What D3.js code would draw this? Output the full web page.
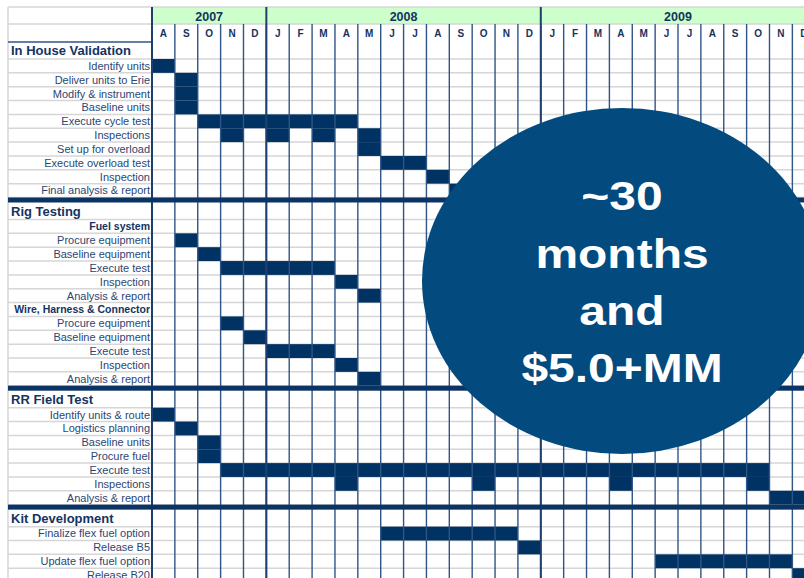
<!DOCTYPE html>
<html><head><meta charset="utf-8">
<script src="https://cdn.jsdelivr.net/npm/d3@7"></script>
<style>html,body{margin:0;padding:0;background:#fff;}svg{display:block;}</style>
</head><body>
<svg id="chart" width="804" height="578"></svg>
<script>
// ---- data ----
const months = ["A","S","O","N","D","J","F","M","A","M","J","J","A","S","O","N","D","J","F","M","A","M","J","J","A","S","O","N","D"];
const years = ["2007","2008","2009"];
const yearSpans = [[0,4],[5,16],[17,28]];
const sections = ["In House Validation","Rig Testing","RR Field Test","Kit Development"];
const subheads = ["Fuel system","Wire, Harness & Connector"];
const sectionTasks = [
  ["Identify units","Deliver units to Erie","Modify & instrument","Baseline units","Execute cycle test","Inspections","Set up for overload","Execute overload test","Inspection","Final analysis & report"],
  ["Fuel system","Procure equipment","Baseline equipment","Execute test","Inspection","Analysis & report","Wire, Harness & Connector","Procure equipment","Baseline equipment","Execute test","Inspection","Analysis & report"],
  ["Identify units & route","Logistics planning","Baseline units","Procure  fuel","Execute test","Inspections","Analysis & report"],
  ["Finalize flex fuel option","Release B5","Update flex fuel option","Release B20"]
];
// month-index spans [start,end] for each task
const sectionSpans = [
  [[[0,0]],[[1,1]],[[1,1]],[[1,1]],[[2,8]],[[3,3],[5,5],[7,7],[9,9]],[[9,9]],[[10,11]],[[12,12]],[[13,13]]],
  [[],[[1,1]],[[2,2]],[[3,7]],[[8,8]],[[9,9]],[],[[3,3]],[[4,4]],[[5,7]],[[8,8]],[[9,9]]],
  [[[0,0]],[[1,1]],[[2,2]],[[2,2]],[[3,26]],[[8,8],[14,14],[20,20],[26,26]],[[27,28]]],
  [[[10,15]],[[16,16]],[[22,27]],[[28,28]]]
];
const calloutLines = ["~30","months","and","$5.0+MM"];

// ---- layout ----
const W = 804, H = 578;
const left = 8, gridLeft = 152, colW = 22.87;
const topY = 7, yearBottom = 24, headBottom = 42;
const hSection = 17, hTask = 13.85, hSep = 5;
const navy = "#003263", lineNavy = "#2f5586", gray = "#d6d6d6";
const txtTask = "#2b4672", txtHead = "#14335f";

const svg = d3.select("#chart");
const x = d3.scaleBand().domain(d3.range(months.length))
  .range([gridLeft, gridLeft + colW * months.length]).padding(0);

// build rows
const rows = [];
sections.forEach((s, si) => {
  rows.push({id: "s" + si, kind: "section", label: s, h: hSection, spans: []});
  sectionTasks[si].forEach((t, ti) => {
    rows.push({id: "t" + si + "_" + ti, kind: subheads.includes(t) ? "sub" : "task", label: t, h: hTask, spans: sectionSpans[si][ti]});
  });
  if (si < sections.length - 1) rows.push({id: "p" + si, kind: "sep", h: hSep, spans: []});
});
let acc = headBottom;
const tops = rows.map(r => { const t = acc; acc += r.h; return t; });
const y = d3.scaleOrdinal().domain(rows.map(r => r.id)).range(tops);

// year row background
svg.append("rect").attr("x", gridLeft).attr("y", topY).attr("width", W - gridLeft).attr("height", yearBottom - topY).attr("fill", "#ccffcc");

// horizontal gray lines
const hLines = [topY, yearBottom, ...rows.filter(r => r.kind !== "sep").map(r => y(r.id) + r.h)];
svg.append("g").selectAll("line").data(hLines).join("line")
  .attr("x1", left).attr("x2", W).attr("y1", d => d).attr("y2", d => d)
  .attr("stroke", gray).attr("stroke-width", 1.5);
svg.append("line").attr("x1", left).attr("x2", left).attr("y1", topY).attr("y2", H).attr("stroke", gray).attr("stroke-width", 1.5);
svg.append("line").attr("x1", left).attr("x2", gridLeft).attr("y1", headBottom).attr("y2", headBottom).attr("stroke", lineNavy).attr("stroke-width", 1.5);

// bars
const barData = [];
rows.forEach(r => r.spans.forEach(s => barData.push({r, s})));
svg.append("g").selectAll("rect").data(barData).join("rect")
  .attr("x", d => x(d.s[0])).attr("width", d => x(d.s[1]) + x.bandwidth() - x(d.s[0]))
  .attr("y", d => y(d.r.id)).attr("height", d => d.r.h)
  .attr("fill", navy);

// vertical month lines
svg.append("g").selectAll("line").data(d3.range(1, months.length + 1)).join("line")
  .attr("x1", d => x(d) !== undefined ? x(d) : x(d - 1) + x.bandwidth())
  .attr("x2", d => x(d) !== undefined ? x(d) : x(d - 1) + x.bandwidth())
  .attr("y1", yearBottom).attr("y2", H)
  .attr("stroke", lineNavy).attr("stroke-width", 1.4);
// year boundaries + grid left boundary
svg.append("g").selectAll("line").data(yearSpans.map(s => s[0])).join("line")
  .attr("x1", d => x(d)).attr("x2", d => x(d))
  .attr("y1", topY).attr("y2", H)
  .attr("stroke", "#1d3f6e").attr("stroke-width", 2);

// separators
svg.append("g").selectAll("rect").data(rows.filter(r => r.kind === "sep")).join("rect")
  .attr("x", left).attr("width", W - left).attr("y", d => y(d.id)).attr("height", d => d.h)
  .attr("fill", "#0b3464");

// year labels
svg.append("g").selectAll("text").data(years).join("text")
  .attr("x", (d, i) => (x(yearSpans[i][0]) + x(yearSpans[i][1]) + x.bandwidth()) / 2)
  .attr("y", 20.5).attr("text-anchor", "middle")
  .attr("font-family", "Liberation Sans, Arial, sans-serif").attr("font-weight", "bold").attr("font-size", 12.5)
  .attr("fill", txtHead).text(d => d);
// month labels
svg.append("g").selectAll("text").data(months).join("text")
  .attr("x", (d, i) => x(i) + x.bandwidth() / 2).attr("y", 37)
  .attr("text-anchor", "middle")
  .attr("font-family", "Liberation Sans, Arial, sans-serif").attr("font-weight", "bold").attr("font-size", 10)
  .attr("fill", txtHead).text(d => d);

// row labels
svg.append("g").selectAll("text").data(rows.filter(r => r.kind !== "sep")).join("text")
  .attr("font-family", "Liberation Sans, Arial, sans-serif")
  .attr("x", d => d.kind === "section" ? 11 : 150)
  .attr("y", d => y(d.id) + d.h / 2 + (d.kind === "section" ? 4.6 : 3.9))
  .attr("text-anchor", d => d.kind === "section" ? "start" : "end")
  .attr("font-weight", d => d.kind === "task" ? "normal" : "bold")
  .attr("font-size", d => d.kind === "section" ? 13 : (d.kind === "sub" ? 10.5 : 11))
  .attr("fill", d => d.kind === "task" ? txtTask : txtHead)
  .text(d => d.label);

// callout
const cx = 622, cy = 281;
svg.append("ellipse").attr("cx", cx).attr("cy", cy).attr("rx", 200).attr("ry", 173).attr("fill", "#034a7e");
const baselines = [210, 268, 325, 382];
svg.append("g").selectAll("text").data(calloutLines).join("text")
  .attr("transform", (d, i) => `translate(${cx},${baselines[i]}) scale(1.17,1)`)
  .attr("text-anchor", "middle")
  .attr("font-family", "Liberation Sans, Arial, sans-serif").attr("font-weight", "bold").attr("font-size", 41)
  .attr("fill", "#ffffff").text(d => d);
</script>
</body></html>
